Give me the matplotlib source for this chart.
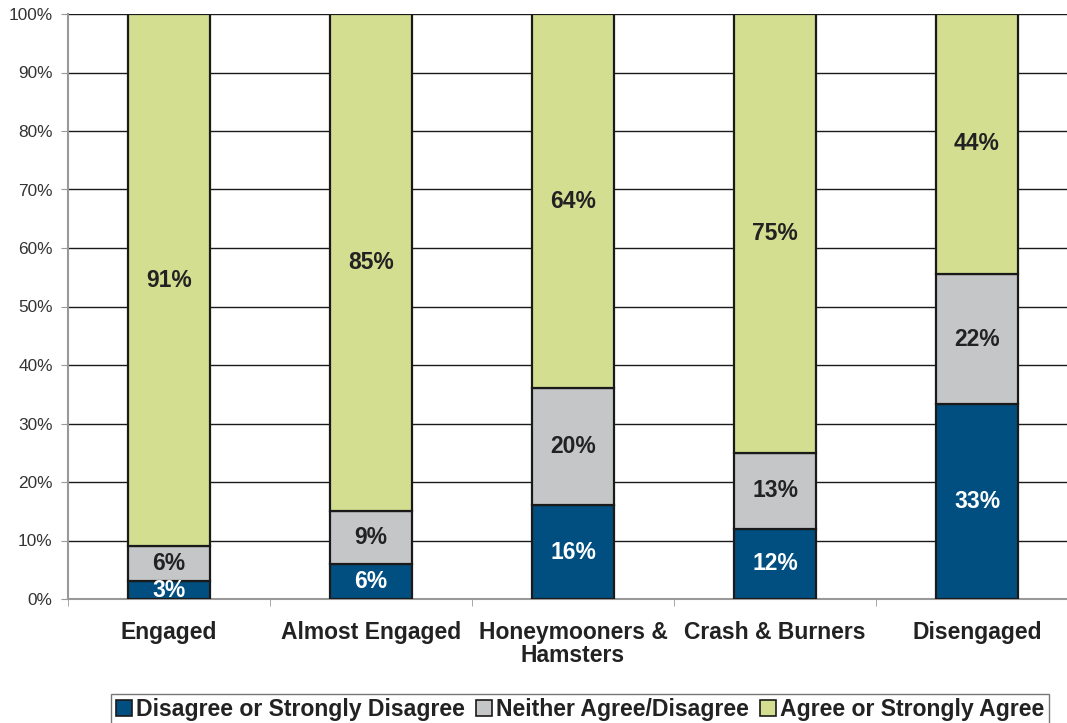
import numpy as np
import matplotlib.pyplot as plt
from matplotlib.ticker import FixedLocator, PercentFormatter

categories = ["Engaged", "Almost Engaged", "Honeymooners &\nHamsters", "Crash & Burners", "Disengaged"]
disagree = [3, 6, 16, 12, 33]
neither = [6, 9, 20, 13, 22]
agree = [91, 85, 64, 75, 44]
series_names = ["Disagree or Strongly Disagree", "Neither Agree/Disagree", "Agree or Strongly Agree"]
colors = ["#004f80", "#c4c6c8", "#d3de90"]
label_colors = ["white", "#222222", "#222222"]

plt.rcParams["font.family"] = ["Liberation Sans", "DejaVu Sans"]

data = np.array([disagree, neither, agree], dtype=float)
shares = data / data.sum(axis=0) * 100

fig = plt.figure(figsize=(10.67, 7.23), dpi=100)
ax = fig.add_axes([68 / 1067, 124 / 723, 1010 / 1067, 585 / 723])

x = np.arange(len(categories))
bottom = np.zeros(len(categories))
for i, name in enumerate(series_names):
    ax.bar(x, shares[i], width=0.41, bottom=bottom, color=colors[i],
           edgecolor="#1a1a1a", linewidth=1.6, label=name, zorder=3)
    for xi, b, h, v in zip(x, bottom, shares[i], data[i]):
        ax.text(xi, b + h / 2, f"{v:.0f}%", ha="center", va="center",
                fontsize=16.5, fontweight="bold", color=label_colors[i], zorder=4)
    bottom += shares[i]

ax.set_xlim(-0.5, len(categories) - 0.5)
ax.set_ylim(0, 100)
ax.set_yticks(np.arange(0, 101, 10))
ax.yaxis.set_major_formatter(PercentFormatter(decimals=0))
ax.grid(axis="y", color="#1a1a1a", linewidth=1.0, zorder=0)
ax.set_axisbelow(True)

ax.set_xticks(x)
ax.set_xticklabels(categories, fontsize=16.5, fontweight="bold", color="#222222",
                   linespacing=1.0)
ax.tick_params(axis="x", which="major", length=0, pad=16)
ax.xaxis.set_minor_locator(FixedLocator(np.arange(-0.5, len(categories), 1)))
ax.tick_params(axis="x", which="minor", length=5, color="#999999")
ax.tick_params(axis="y", labelsize=12.4, labelcolor="#333333", length=5,
               color="#999999", pad=6)

for side in ["top", "right"]:
    ax.spines[side].set_visible(False)
for side in ["left", "bottom"]:
    ax.spines[side].set_color("#999999")
    ax.spines[side].set_linewidth(1.5)

leg = fig.legend(loc="lower center", bbox_to_anchor=(580 / 1067, -0.004), ncol=3,
                 frameon=True, fancybox=False, edgecolor="#555555",
                 prop={"size": 16.6, "weight": "bold"}, handlelength=0.7,
                 handleheight=0.7, handletextpad=0.15, columnspacing=0.5,
                 borderpad=0.2, borderaxespad=0)
for t in leg.get_texts():
    t.set_color("#222222")
for h in leg.legend_handles:
    h.set_linewidth(1.2)

fig.savefig("out.png", dpi=100)
